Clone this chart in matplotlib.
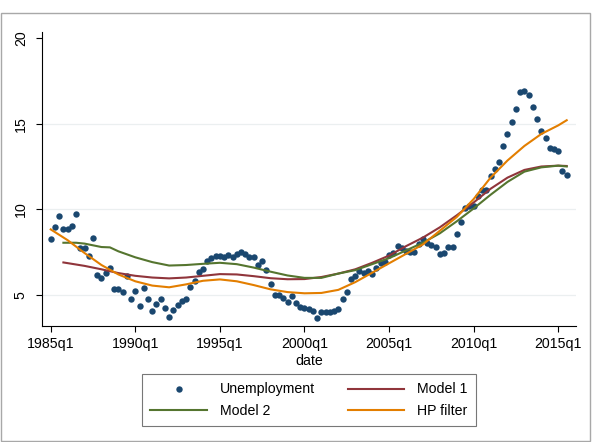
import numpy as np
import matplotlib.pyplot as plt
from matplotlib.patches import Rectangle

plt.rcParams['font.family'] = ['Liberation Sans', 'DejaVu Sans']

# --- DATOS (trimestres desde 1985q1) ---
unemployment = [
    8.27, 8.95, 9.59, 8.85, 8.83, 9.00, 9.74, 7.76, 7.72, 7.27,
    8.30, 6.15, 6.01, 6.29, 6.56, 5.33, 5.33, 5.15, 6.10, 4.74,
    5.22, 4.36, 5.42, 4.79, 4.08, 4.47, 4.78, 4.26, 3.71, 4.10,
    4.40, 4.65, 4.75, 5.48, 5.83, 6.34, 6.51, 6.96, 7.18, 7.27,
    7.27, 7.23, 7.33, 7.23, 7.39, 7.52, 7.39, 7.20, 7.23, 6.75,
    7.00, 6.44, 5.64, 5.02, 4.98, 4.83, 4.60, 4.93, 4.54, 4.31,
    4.22, 4.16, 4.08, 3.67, 4.00, 4.02, 4.02, 4.05, 4.20, 4.75,
    5.17, 5.96, 6.11, 6.41, 6.26, 6.40, 6.22, 6.57, 6.88, 6.94,
    7.33, 7.43, 7.87, 7.72, 7.58, 7.52, 7.49, 8.00, 8.25, 8.05,
    7.92, 7.82, 7.39, 7.43, 7.78, 7.78, 8.58, 9.28, 10.06, 10.19,
    10.19, 10.80, 11.13, 11.13, 11.96, 12.34, 12.74, 13.69, 14.38, 15.11,
    15.84, 16.83, 16.92, 16.67, 15.99, 15.30, 14.55, 14.16, 13.57, 13.51,
    13.43, 12.26, 12.01,
]

model1_q = [3, 8, 12, 16, 20, 24, 28, 32, 36, 40, 44, 48, 52, 56, 60, 64,
            68, 72, 76, 80, 84, 88, 92, 96, 100, 104, 108, 112, 116, 120, 122]
model1 = [6.90, 6.70, 6.50, 6.28, 6.12, 6.02, 5.97, 6.02, 6.12, 6.22, 6.20,
          6.10, 5.98, 5.92, 5.93, 6.05, 6.25, 6.50, 6.88, 7.30, 7.85, 8.35,
          8.95, 9.65, 10.40, 11.20, 11.85, 12.30, 12.50, 12.55, 12.53]

model2_q = [3, 6, 8, 10, 12, 14, 16, 20, 24, 28, 32, 36, 40, 44, 48, 52, 56,
            60, 64, 68, 72, 76, 80, 84, 88, 92, 96, 100, 104, 108, 112, 116,
            120, 122]
model2 = [8.05, 8.05, 8.00, 7.90, 7.80, 7.78, 7.55, 7.20, 6.92, 6.72, 6.75,
          6.82, 6.88, 6.80, 6.60, 6.36, 6.14, 6.00, 6.00, 6.25, 6.45, 6.80,
          7.15, 7.60, 8.05, 8.60, 9.30, 10.05, 10.85, 11.60, 12.20, 12.45,
          12.55, 12.50]

hp_q = [0, 4, 8, 12, 16, 20, 24, 28, 32, 36, 40, 44, 48, 52, 56, 60, 64, 68,
        72, 76, 80, 84, 88, 92, 96, 100, 104, 108, 112, 116, 120, 122]
hp = [8.83, 8.20, 7.45, 6.75, 6.20, 5.80, 5.55, 5.45, 5.62, 5.83, 5.91, 5.80,
      5.58, 5.33, 5.17, 5.10, 5.12, 5.30, 5.75, 6.30, 6.85, 7.40, 7.95, 8.75,
      9.55, 10.60, 11.85, 12.85, 13.70, 14.40, 14.90, 15.20]

tick_q = [0, 20, 40, 60, 80, 100, 120]
tick_labels = ['1985q1', '1990q1', '1995q1', '2000q1', '2005q1', '2010q1', '2015q1']

# --- GRAFICA ---
fig = plt.figure(figsize=(5.94, 4.42), dpi=100)
ax = fig.add_axes([0.0702, 0.2624, 0.8995, 0.6652])

quarters = np.arange(len(unemployment))
ax.plot(quarters, unemployment, 'o', color='#1a476f', markersize=4.6,
        markeredgewidth=0, label='Unemployment', zorder=3)
l1, = ax.plot(model1_q, model1, color='#90353b', lw=1.5, label='Model 1', zorder=4)
l2, = ax.plot(model2_q, model2, color='#55752f', lw=1.5, label='Model 2', zorder=4)
l3, = ax.plot(hp_q, hp, color='#e37e00', lw=1.5, label='HP filter', zorder=4)

ax.set_xlim(-2.13, 124.2)
ax.set_ylim(3.19, 20.35)
ax.set_xticks(tick_q)
ax.set_xticklabels(tick_labels)
ax.set_yticks([5, 10, 15, 20])
ax.set_yticklabels(['5', '10', '15', '20'], rotation=90, va='center')
for v in [5, 10, 15]:
    ax.axhline(v, color='#ebeff0', lw=0.9, zorder=1)

ax.spines['top'].set_visible(False)
ax.spines['right'].set_visible(False)
ax.spines['left'].set_linewidth(0.8)
ax.spines['bottom'].set_linewidth(0.8)
ax.tick_params(axis='both', direction='out', length=4, width=0.8, labelsize=10.2)
ax.tick_params(axis='y', pad=6)
ax.tick_params(axis='x', pad=4)
ax.set_xlabel('date', fontsize=10.2, labelpad=2)

handles = [ax.lines[0], l2, l1, l3]
leg = fig.legend(handles, [h.get_label() for h in handles], ncol=2,
                 loc='center', bbox_to_anchor=(309 / 594, 1 - 400 / 442),
                 fontsize=10.2, frameon=True, fancybox=False, numpoints=1,
                 handlelength=4.0, handletextpad=0.9, columnspacing=2.3,
                 labelspacing=0.5, borderpad=0.62)
leg.get_frame().set_edgecolor('#555555')
leg.get_frame().set_linewidth(0.8)

# marco exterior
fig.patches.append(Rectangle((1 / 594, 1 / 442), 589 / 594, 428 / 442,
                             transform=fig.transFigure, fill=False,
                             edgecolor='#a8a8a8', lw=1.0))

fig.savefig('out.png', dpi=100)
